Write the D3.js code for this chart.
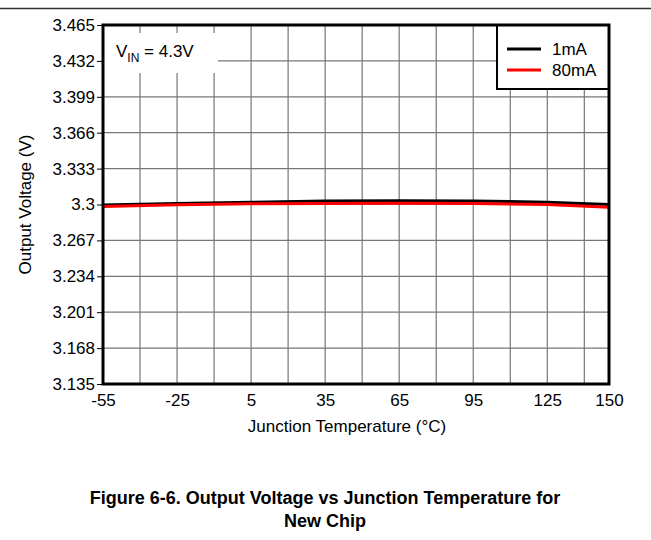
<!DOCTYPE html>
<html>
<head>
<meta charset="utf-8">
<script src="https://cdn.jsdelivr.net/npm/d3@7"></script>
<style>
  body { margin: 0; background: #fff; }
  text { font-family: "Liberation Sans", Arial, sans-serif; }
</style>
</head>
<body>
<svg id="chart" width="651" height="540"></svg>
<script>
// Data
const temps = [-55, -25, 5, 35, 65, 95, 125, 150];
const vout1mA = [3.2995, 3.301, 3.302, 3.3033, 3.3035, 3.3033, 3.302, 3.300];
const vout80mA = [3.2982, 3.2997, 3.3006, 3.301, 3.3011, 3.301, 3.3, 3.2975];
const xTicks = [-55, -25, 5, 35, 65, 95, 125, 150];
const xGrid = [-40, -25, -10, 5, 20, 35, 50, 65, 80, 95, 110, 125, 140];
const yTicks = ['3.135', '3.168', '3.201', '3.234', '3.267', '3.3', '3.333', '3.366', '3.399', '3.432', '3.465'];
const seriesNames = ['1mA', '80mA'];
const seriesColors = ['#000000', '#ff0000'];

const margin = { top: 25, left: 103, right: 42, bottom: 156 };
const width = 651 - margin.left - margin.right;
const height = 540 - margin.top - margin.bottom;
const fs = 17;

const svg = d3.select('#chart');

// top rule
svg.append('line')
  .attr('x1', 0).attr('x2', 651)
  .attr('y1', 8.5).attr('y2', 8.5)
  .attr('stroke', '#333').attr('stroke-width', 1.5);

const g = svg.append('g').attr('transform', `translate(${margin.left},${margin.top})`);

const x = d3.scaleLinear().domain([-55, 150]).range([0, width]);
const y = d3.scaleLinear().domain([3.135, 3.465]).range([height, 0]);

// grid
g.selectAll('.vgrid').data(xGrid).enter().append('line')
  .attr('x1', d => x(d)).attr('x2', d => x(d))
  .attr('y1', 0).attr('y2', height)
  .attr('stroke', '#777').attr('stroke-width', 1.2);
g.selectAll('.hgrid').data(yTicks.map(Number)).enter().append('line')
  .attr('x1', 0).attr('x2', width)
  .attr('y1', d => y(d)).attr('y2', d => y(d))
  .attr('stroke', '#777').attr('stroke-width', 1.2);

// VIN label box
g.append('rect').attr('x', 0).attr('y', 8).attr('width', 115).attr('height', 40).attr('fill', '#fff');
const vin = g.append('text').attr('x', 13).attr('y', 32).attr('font-size', fs).attr('fill', '#000');
vin.append('tspan').text('V');
vin.append('tspan').attr('font-size', 12).attr('dy', 5).text('IN');
vin.append('tspan').attr('dy', -5).text(' = 4.3V');

// lines
const line = d3.line().x((d, i) => x(temps[i])).y(d => y(d));
[vout1mA, vout80mA].forEach((vals, k) => {
  g.append('path').datum(vals)
    .attr('fill', 'none')
    .attr('stroke', seriesColors[k])
    .attr('stroke-width', 3)
    .attr('d', line);
});

// legend
const lg = g.append('g').attr('transform', `translate(${width - 112},0)`);
lg.append('rect').attr('x', 0).attr('y', 0).attr('width', 112).attr('height', 64)
  .attr('fill', '#fff').attr('stroke', '#000').attr('stroke-width', 2);
seriesNames.forEach((name, i) => {
  const yy = 24 + i * 21;
  lg.append('line').attr('x1', 10).attr('x2', 44).attr('y1', yy).attr('y2', yy)
    .attr('stroke', seriesColors[i]).attr('stroke-width', 3);
  lg.append('text').attr('x', 55).attr('y', yy + 6).attr('font-size', fs).text(name);
});

// frame
g.append('rect').attr('x', 0).attr('y', 0).attr('width', width).attr('height', height)
  .attr('fill', 'none').attr('stroke', '#000').attr('stroke-width', 3);

// axes
const xAxis = d3.axisBottom(x).tickValues(xTicks).tickFormat(d => String(d)).tickSize(0).tickPadding(10);
const gx = g.append('g').attr('transform', `translate(0,${height})`).call(xAxis);
gx.select('.domain').remove();
gx.selectAll('text').attr('font-size', fs).attr('fill', '#000')
  .style('font-family', '"Liberation Sans", Arial, sans-serif');

const yAxis = d3.axisLeft(y).tickValues(yTicks.map(Number)).tickFormat((d, i) => yTicks[i]).tickSize(6).tickPadding(2);
const gy = g.append('g').call(yAxis);
gy.select('.domain').remove();
gy.selectAll('line').attr('stroke', '#000');
gy.selectAll('text').attr('font-size', fs).attr('fill', '#000')
  .style('font-family', '"Liberation Sans", Arial, sans-serif');

// axis titles
svg.append('text').attr('x', 347).attr('y', 432)
  .attr('text-anchor', 'middle').attr('font-size', fs).text('Junction Temperature (°C)');
svg.append('text')
  .attr('transform', `translate(31,${margin.top + height / 2}) rotate(-90)`)
  .attr('text-anchor', 'middle').attr('font-size', fs).text('Output Voltage (V)');

// caption
svg.append('text').attr('x', 325).attr('y', 504).attr('text-anchor', 'middle')
  .attr('font-size', 18).attr('font-weight', 'bold').text('Figure 6-6. Output Voltage vs Junction Temperature for');
svg.append('text').attr('x', 325).attr('y', 527).attr('text-anchor', 'middle')
  .attr('font-size', 18).attr('font-weight', 'bold').text('New Chip');
</script>
</body>
</html>
